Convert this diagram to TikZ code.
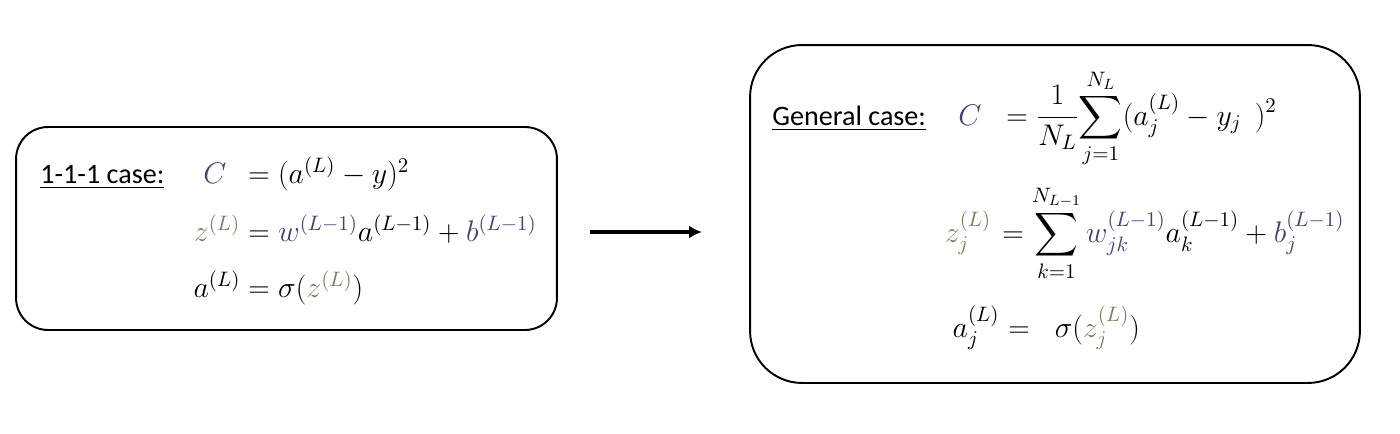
\documentclass[tikz,border=0pt]{standalone}
\usepackage{fix-cm}
\usepackage{amsmath}
\usepackage{fontspec}
\newfontfamily\carlito{Carlito}
\usetikzlibrary{arrows.meta}
\definecolor{cblue}{RGB}{66,64,118}
\definecolor{zgray}{RGB}{133,122,94}
\newcommand\bc[1]{\textcolor{cblue}{#1}}
\newcommand\zc[1]{\textcolor{zgray}{#1}}

\begin{document}
\begin{tikzpicture}[x=0.02cm,y=-0.02cm,
    box/.style={draw,line width=1.1pt,inner sep=0pt,outer sep=0pt},
    lbl/.style={anchor=base west,inner sep=0pt,font=\carlito\fontsize{16}{19}\selectfont},
    lhs/.style={anchor=base,inner sep=0pt,font=\fontsize{17}{20}\selectfont},
    rhs/.style={anchor=base west,inner sep=0pt,font=\fontsize{17}{20}\selectfont}]
    \useasboundingbox (0,0) rectangle (1400,433);
    \node(box1)[box,rounded corners=0.64cm,minimum width=10.82cm,minimum height=4.06cm] at (286.5,228.5) {};
    \node(box2)[box,rounded corners=1.04cm,minimum width=12.2cm,minimum height=6.76cm] at (1055,214) {};
    \node(case1)[lbl] at (40,183) {\underline{1-1-1 case:}};
    \node(c1)[lhs] at (215,183) {$\bc{C}$};
    \node(c1r)[rhs] at (248,183) {$=(a^{(L)}-y)^2$};
    \node(z1)[lhs] at (217,241) {$\zc{z^{(L)}}$};
    \node(z1r)[rhs] at (248,241) {$=\bc{w^{(L-1)}}a^{(L-1)}+\bc{b^{(L-1)}}$};
    \node(a1)[lhs] at (217,297) {$a^{(L)}$};
    \node(a1r)[rhs] at (248,297) {$=\sigma(\zc{z^{(L)}})$};
    \node(case2)[lbl] at (772,125) {\underline{General case:}};
    \node(c2)[lhs] at (970,125) {$\bc{C}$};
    \node(c2r)[rhs] at (1006,125) {$\displaystyle=\frac{1}{N_L}\!\sum_{j=1}^{N_L}(a_j^{(L)}-y_j\;\,)^2$};
    \node(z2)[lhs] at (968,242) {$\zc{z_j^{(L)}}$};
    \node(z2r)[rhs] at (1002,242) {$\displaystyle=\sum_{k=1}^{N_{L-1}}\bc{w_{jk}^{(L-1)}}a_k^{(L-1)}+\bc{b_j^{(L-1)}}$};
    \node(a2)[lhs] at (976,337) {$a_j^{(L)}$};
    \node(a2r)[rhs] at (1008,337) {$=\;\;\sigma(\zc{z_j^{(L)}})$};
    \coordinate(from) at (590,232);
    \coordinate(to) at (702,232);
    \draw[line width=2pt,-{Latex[length=0.26cm,width=0.26cm]}] (from) -- (to);
\end{tikzpicture}
\end{document}
